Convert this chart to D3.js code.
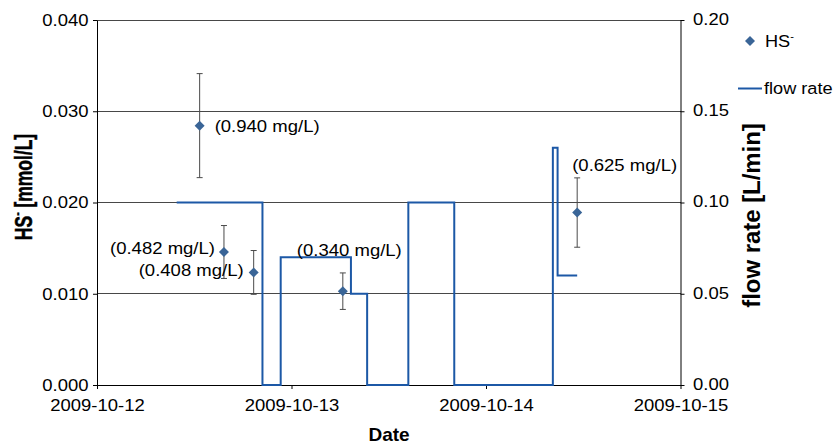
<!DOCTYPE html>
<html>
<head>
<meta charset="utf-8">
<script src="https://cdn.jsdelivr.net/npm/d3@7"></script>
<style>
  body { margin: 0; background: #fff; }
  text { font-family: "Liberation Sans", Arial, sans-serif; fill: #000; }
</style>
</head>
<body>
<svg id="chart" width="834" height="445"></svg>
<script>
// HS- grab samples: sampling time, concentration in mg/L, error (mmol/L)
const sampleTimes = ["2009-10-12 12:40", "2009-10-12 15:40", "2009-10-12 19:20", "2009-10-13 06:20", "2009-10-14 11:15"];
const hsMgL = [0.940, 0.482, 0.408, 0.340, 0.625];
const hsErr = [0.0057, 0.0029, 0.0024, 0.0020, 0.0038];

// Pump flow rate, stepwise (value holds until the next change)
const flowTimes = ["2009-10-12 09:50", "2009-10-12 20:25", "2009-10-12 22:40", "2009-10-13 07:20", "2009-10-13 09:20",
                   "2009-10-13 14:25", "2009-10-13 20:05", "2009-10-14 08:15", "2009-10-14 08:50", "2009-10-14 11:15"];
const flowRates = [0.10, 0.00, 0.07, 0.05, 0.00, 0.10, 0.00, 0.13, 0.06, 0.06];

// Axis ticks
const dateTicks = ["2009-10-12", "2009-10-13", "2009-10-14", "2009-10-15"];
const hsTicks = [0, 0.010, 0.020, 0.030, 0.040];
const flowTicks = [0, 0.05, 0.10, 0.15, 0.20];

const HS_MOLAR_MASS = 33.07; // g/mol, converts mg/L to mmol/L

const parseTime = d3.timeParse("%Y-%m-%d %H:%M");
const parseDay = d3.timeParse("%Y-%m-%d");

const samples = sampleTimes.map((t, i) => ({
  t: parseTime(t),
  mg: hsMgL[i],
  v: hsMgL[i] / HS_MOLAR_MASS,
  err: hsErr[i]
}));
const flow = flowTimes.map((t, i) => ({ t: parseTime(t), v: flowRates[i] }));

// Layout
const plot = { left: 97, right: 680.5, top: 20, bottom: 385 };
const TICK_FONT = 16.5, STRETCH = 1.12;

const svg = d3.select("#chart");

const x = d3.scaleTime()
  .domain([parseDay(dateTicks[0]), parseDay(dateTicks[dateTicks.length - 1])])
  .range([plot.left, plot.right]);
const yL = d3.scaleLinear().domain([0, 0.04]).range([plot.bottom, plot.top]);
const yR = d3.scaleLinear().domain([0, 0.20]).range([plot.bottom, plot.top]);

// Horizontal gridlines
svg.append("g")
  .selectAll("line")
  .data(hsTicks.filter(d => d > 0))
  .join("line")
  .attr("x1", plot.left).attr("x2", plot.right)
  .attr("y1", d => yL(d)).attr("y2", d => yL(d))
  .attr("stroke", "#474747").attr("stroke-width", 1)
  .attr("shape-rendering", "crispEdges");

function styleAxis(g) {
  g.select(".domain").attr("stroke", "#000").attr("stroke-width", 1);
  g.selectAll(".tick line").attr("stroke", "#000");
  g.selectAll(".tick text")
    .attr("font-family", '"Liberation Sans", Arial, sans-serif')
    .attr("font-size", TICK_FONT)
    .attr("fill", "#000");
}

// Bottom date axis
const xAxis = svg.append("g")
  .attr("transform", `translate(0,${plot.bottom})`)
  .call(d3.axisBottom(x)
    .tickValues(dateTicks.map(parseDay))
    .tickFormat(d3.timeFormat("%Y-%m-%d"))
    .tickSize(4).tickSizeOuter(0));
styleAxis(xAxis);
xAxis.selectAll(".tick text").attr("y", 26.5).attr("dy", 0)
  .attr("transform", `scale(${STRETCH},1)`);

// Left HS- axis
const yAxisL = svg.append("g")
  .attr("transform", `translate(${plot.left},0)`)
  .call(d3.axisLeft(yL).tickValues(hsTicks).tickFormat(d3.format(".3f"))
    .tickSize(4).tickSizeOuter(0));
styleAxis(yAxisL);
yAxisL.selectAll(".tick text").attr("x", -7.6)
  .attr("transform", `scale(${STRETCH},1)`);

// Right flow axis
const yAxisR = svg.append("g")
  .attr("transform", `translate(${plot.right},0)`)
  .call(d3.axisRight(yR).tickValues(flowTicks).tickFormat(d3.format(".2f"))
    .tickSize(4).tickSizeOuter(0));
styleAxis(yAxisR);
yAxisR.selectAll(".tick text").attr("x", 11.2).attr("dy", "0.26em")
  .attr("transform", `scale(${STRETCH},1)`);

// Flow rate step line
const flowLine = d3.line()
  .x(d => x(d.t))
  .y(d => yR(d.v))
  .curve(d3.curveStepAfter);
svg.append("path")
  .datum(flow)
  .attr("d", flowLine)
  .attr("fill", "none")
  .attr("stroke", "#1c58a6")
  .attr("stroke-width", 2);

// Error bars
const eb = svg.append("g").attr("stroke", "#4a4a4a").attr("stroke-width", 1);
samples.forEach(s => {
  const cx = x(s.t);
  eb.append("line").attr("x1", cx).attr("x2", cx)
    .attr("y1", yL(s.v + s.err)).attr("y2", yL(s.v - s.err));
  [s.v + s.err, s.v - s.err].forEach(v => {
    eb.append("line").attr("x1", cx - 3).attr("x2", cx + 3)
      .attr("y1", yL(v)).attr("y2", yL(v));
  });
});

// Diamond markers
const diamond = d3.symbol().type(d3.symbolSquare).size(50);
svg.append("g")
  .selectAll("path")
  .data(samples)
  .join("path")
  .attr("d", diamond)
  .attr("transform", d => `translate(${x(d.t)},${yL(d.v)}) rotate(45)`)
  .attr("fill", "#3a6597");

// Value labels (mg/L), placed beside each marker
const labelPlacement = [
  { dx: 15, dy: 0, anchor: "start" },
  { dx: -9, dy: -4, anchor: "end" },
  { dx: -10, dy: -2, anchor: "end" },
  { dx: -46, dy: -41, anchor: "start" },
  { dx: -5, dy: -48, anchor: "start" }
];
samples.forEach((s, i) => {
  const p = labelPlacement[i];
  svg.append("text")
    .attr("transform", `translate(${x(s.t) + p.dx},${yL(s.v) + p.dy}) scale(1.09,1)`)
    .attr("text-anchor", p.anchor)
    .attr("dy", "0.35em")
    .attr("font-size", 17)
    .text(`(${d3.format(".3f")(s.mg)} mg/L)`);
});

// Axis titles
const titleL = svg.append("text")
  .attr("transform", "translate(31.7,187) rotate(-90) scale(0.92,1.23)")
  .attr("text-anchor", "middle")
  .attr("font-size", 19)
  .attr("font-weight", "bold")
  .attr("stroke", "#000")
  .attr("stroke-width", 0.4);
titleL.append("tspan").text("HS");
titleL.append("tspan").attr("font-size", 11).attr("dy", -8).text("-");
titleL.append("tspan").attr("dy", 8).text(" [mmol/L]");

svg.append("text")
  .attr("transform", "translate(760,215.5) rotate(-90) scale(1.04,1)")
  .attr("text-anchor", "middle")
  .attr("font-size", 23)
  .attr("font-weight", "bold")
  .text("flow rate [L/min]");

svg.append("text")
  .attr("x", 389).attr("y", 441)
  .attr("text-anchor", "middle")
  .attr("font-size", 19)
  .attr("font-weight", "bold")
  .text("Date");

// Legend
const legend = svg.append("g");
legend.append("path")
  .attr("d", diamond)
  .attr("transform", "translate(750,41) rotate(45)")
  .attr("fill", "#3a6597");
const legHS = legend.append("text")
  .attr("transform", "translate(765,47) scale(1.1,1)")
  .attr("font-size", 16.5);
legHS.append("tspan").text("HS");
legHS.append("tspan").attr("font-size", 10).attr("dy", -7).text("-");

legend.append("line")
  .attr("x1", 738).attr("x2", 762)
  .attr("y1", 88.5).attr("y2", 88.5)
  .attr("stroke", "#1c58a6").attr("stroke-width", 2);
legend.append("text")
  .attr("transform", "translate(764,94) scale(1.1,1)")
  .attr("font-size", 16.5)
  .text("flow rate");
</script>
</body>
</html>
